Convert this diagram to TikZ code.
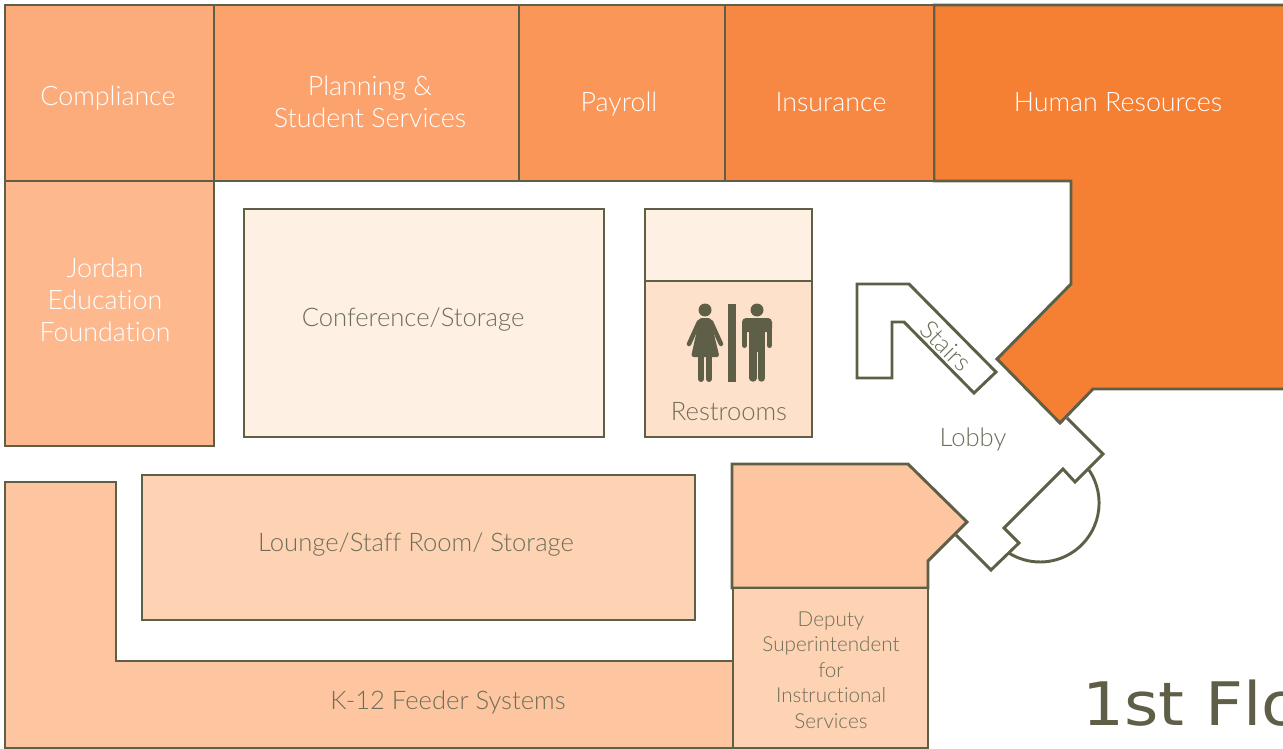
\documentclass[tikz,border=0pt]{standalone}
\usepackage{fontspec}
\setmainfont{Lato}[UprightFont=* Light,Ligatures=NoCommon]
\newfontfamily\titlefont{DejaVu Sans}
\definecolor{linec}{HTML}{5F5F48}
\definecolor{textc}{HTML}{6E6E58}
\definecolor{cComp}{HTML}{FCAC7A}
\definecolor{cPlan}{HTML}{FCA26C}
\definecolor{cPay}{HTML}{F99658}
\definecolor{cIns}{HTML}{F78844}
\definecolor{cHR}{HTML}{F58033}
\definecolor{cJor}{HTML}{FDB98D}
\definecolor{cConf}{HTML}{FEF0E3}
\definecolor{cRest}{HTML}{FEE1CB}
\definecolor{cLou}{HTML}{FDD3B3}
\definecolor{cK}{HTML}{FDC6A0}
\tikzset{
 x=0.75pt,y=-0.75pt,
 room/.style={draw=linec,line width=2.2pt,line join=miter},
 lab/.style={text=textc,font=\fontsize{19.2}{24}\selectfont,align=center,inner sep=0pt},
 wlab/.style={text=white,font=\fontsize{20.1}{24}\selectfont,align=center,inner sep=0pt},
 slab/.style={text=textc,font=\fontsize{15.5}{19.1}\selectfont,align=center,inner sep=0pt},
 icon/.style={fill=linec,draw=none},
 limb/.style={draw=linec,line cap=round},
}
\begin{document}
\begin{tikzpicture}
\useasboundingbox (0,0) rectangle (1283,749);
% top row
\path[room,fill=cHR] (934,5) -- (1290,5) -- (1290,389) -- (1093,389) -- (1060,423) -- (997,359) -- (1071,284) -- (1071,181) -- (934,181) -- cycle;
\path[room,fill=cComp] (5,5) rectangle (214,181);
\path[room,fill=cPlan] (214,5) rectangle (519,181);
\path[room,fill=cPay] (519,5) rectangle (725,181);
\path[room,fill=cIns] (725,5) rectangle (934,181);
% left and centre
\path[room,fill=cJor] (5,181) rectangle (214,446);
\path[room,fill=cConf] (244,209) rectangle (604,437);
\path[room,fill=cConf] (645,209) rectangle (812,281);
\path[room,fill=cRest] (645,281) rectangle (812,437);
\path[room,fill=cLou] (142,475) rectangle (695,620);
\path[room,fill=cK] (5,482) -- (116,482) -- (116,661) -- (733,661) -- (733,748) -- (5,748) -- cycle;
\path[room,fill=cK] (732,464) -- (908,464) -- (967,522) -- (928,561) -- (928,588) -- (732,588) -- cycle;
\path[room,fill=cLou] (733,588) rectangle (928,748);
% stairs
\path[room] (857,284) -- (909,284) -- (996,372) -- (974,393) -- (904,322) -- (892,322) -- (892,378) -- (857,378) -- cycle;
% lobby door
\path[room] (1067,418) -- (1103,454) -- (1075,482) -- (1063,469) -- (1004,528) -- (1019,543) -- (991,570) -- (956,535);
\path[room] (1089,470) arc[start angle=-34,end angle=122.6,radius=59];
% restroom icon
\fill[icon] (728,304) rectangle (736,382);
\fill[icon] (705,310) circle (6.5);
\fill[icon] (757,310) circle (6.5);
\fill[icon,rounded corners=2pt] (699,318) -- (711,318) -- (713,330) -- (719.5,357) -- (691,357) -- (697,330) -- cycle;
\draw[limb,line width=3.4pt] (699,322) -- (689,344);
\draw[limb,line width=3.4pt] (711,322) -- (721,344);
\draw[limb,line width=4.5pt] (701,354) -- (701,379);
\draw[limb,line width=4.5pt] (709,354) -- (709,379);
\fill[icon,rounded corners=3pt] (742,332) -- (742,318) -- (772,318) -- (772,332) -- cycle;
\fill[icon] (749,325) rectangle (765,352);
\draw[limb,line width=3.75pt] (744.5,325) -- (744.5,345.5);
\draw[limb,line width=3.75pt] (769.5,325) -- (769.5,345.5);
\draw[limb,line width=5.6pt] (753,350) -- (753,378);
\draw[limb,line width=5.6pt] (761.5,350) -- (761.5,378);
% labels
\node[wlab] (compliance) at (108,98) {Compliance};
\node[wlab] (planning) at (370,102) {Planning \&\\Student Services};
\node[wlab] (payroll) at (619,104) {Payroll};
\node[wlab] (insurance) at (831,102) {Insurance};
\node[wlab] (hr) at (1118,102) {Human Resources};
\node[wlab] (jordan) at (105,300) {Jordan\\Education\\Foundation};
\node[lab] (conf) at (413,320) {Conference/Storage};
\node[lab] (restrooms) at (729,412) {Restrooms};
\node[lab] (lounge) at (416,545) {Lounge/Staff Room/ Storage};
\node[lab] (k12) at (448,702) {K-12 Feeder Systems};
\node[lab] (lobby) at (973,439) {Lobby};
\node[lab,rotate=-45] (stairs) at (946,346) {Stairs};
\node[slab] (deputy) at (831,670) {Deputy\\Superintendent\\for\\Instructional\\Services};
\node[text=linec,anchor=base west,inner sep=0pt,font=\titlefont\fontsize{45}{50}\selectfont,xscale=1.1] (title) at (1082,725) {1st Flo};
\end{tikzpicture}
\end{document}
